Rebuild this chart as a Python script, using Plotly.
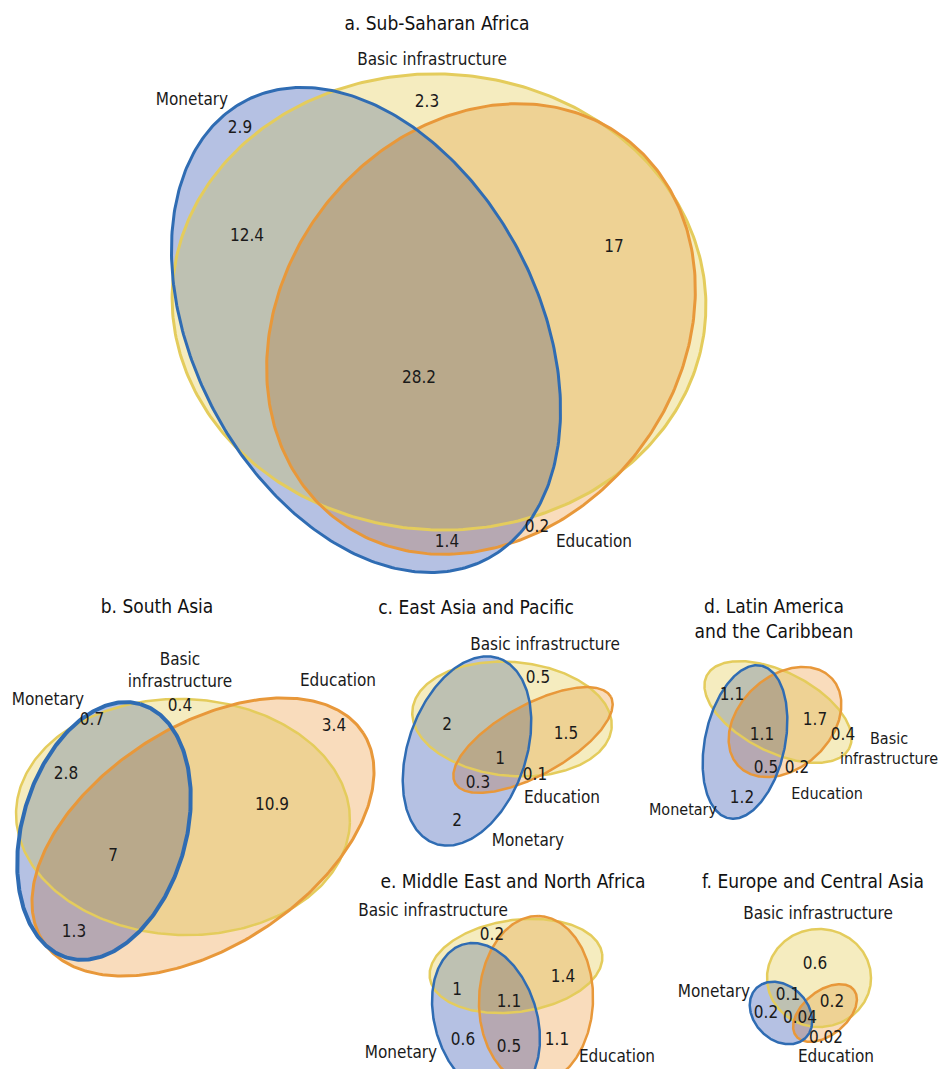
import numpy as np
import plotly.graph_objects as go

W, H = 950, 1069
PAD = 8  # page body margin; plot is shifted so data coords = page pixels
FONT = "Liberation Sans Narrow, DejaVu Sans Condensed, Roboto Condensed, Roboto, sans-serif"

set_names = ["Monetary", "Basic infrastructure", "Education"]
titles = ["a. Sub-Saharan Africa", "b. South Asia", "c. East Asia and Pacific",
          "d. Latin America<br>and the Caribbean", "e. Middle East and North Africa",
          "f. Europe and Central Asia"]

# region order: M only, B only, E only, M&B, B&E, M&E, M&B&E
ssa_vals = [2.9, 2.3, 0.2, 12.4, 17, 1.4, 28.2]
sar_vals = [0.7, 0.4, 3.4, 2.8, 10.9, 1.3, 7]
eap_vals = [2, 0.5, 0.1, 2, 1.5, 0.3, 1]
lac_vals = [1.2, 0.4, 0.2, 1.1, 1.7, 0.5, 1.1]
mna_vals = [0.6, 0.2, 1.1, 1, 1.4, 0.5, 1.1]
eca_vals = [0.2, 0.6, 0.02, 0.1, 0.2, None, 0.04]

# layout: ellipse (cx, cy, a, b, tilt deg) for Monetary, Basic infra, Education
panels = [
    dict(vals=ssa_vals, title=(437, 25),
         geo=[(366, 330, 259, 172, -62), (439, 302, 267, 228, -3), (481, 329, 239, 199, 53)],
         pos=[(240, 129), (427, 103), (537, 528), (247, 237), (614, 248), (447, 543), (419, 379)],
         names=[(192, 101), (432, 61), (594, 543)], lw=[3, 3, 3], br=False, ns=17),
    dict(vals=sar_vals, title=(157, 608),
         geo=[(104, 831, 132, 82, 74), (183, 817, 167, 118, -2), (203, 837, 191, 110, 33)],
         pos=[(92, 721), (180, 707), (334, 727), (66, 775), (272, 806), (74, 933), (113, 857)],
         names=[(48, 701), (180, 672), (338, 682)], lw=[4, 2.5, 3], br=True, ns=17),
    dict(vals=eap_vals, title=(476, 609),
         geo=[(467, 751, 98, 59, 71), (512, 719, 100, 57, -5), (533, 740, 89, 35, 29)],
         pos=[(457, 822), (538, 679), (535, 776), (447, 726), (566, 735), (478, 784), (500, 760)],
         names=[(528, 842), (545, 646), (562, 799)], lw=[2.5, 2.5, 2.5], br=False, ns=17),
    dict(vals=lac_vals, title=(774, 621),
         geo=[(745, 742, 78, 40, 78), (778, 712, 80, 40, -27), (785, 722, 64, 46, 43)],
         pos=[(742, 799), (843, 736), (797, 769), (732, 696), (815, 721), (766, 769), (762, 736)],
         names=[(683, 811), (889, 750), (827, 795)], lw=[2.5, 2.5, 2.5], br=True, ns=16),
    dict(vals=mna_vals, title=(513, 883),
         geo=[(486, 1020, 79, 51, -73), (516, 966, 87, 46, 8), (536, 1000, 84, 57, 88)],
         pos=[(463, 1041), (492, 936), (557, 1041), (457, 991), (563, 978), (509, 1048), (509, 1003)],
         names=[(401, 1054), (433, 912), (617, 1058)], lw=[2.5, 2.5, 2.5], br=False, ns=17),
    dict(vals=eca_vals, title=(813, 883),
         geo=[(781, 1013, 35, 27, -45), (819, 978, 52, 49, 0), (825, 1013, 37, 22, 39)],
         pos=[(766, 1014), (815, 965), (826, 1039), (788, 996), (832, 1003), (0, 0), (800, 1019)],
         names=[(714, 993), (818, 915), (836, 1058)], lw=[2.5, 2.5, 2.5], br=False, ns=17),
]

line_colors = ["#2f6cb3", "#e4cc5c", "#e8983a"]
# code = M + 2*B + 4*E
region_colors = ["#b5c1e3", "#f5ecbf", "#bec1b2", "#f9dcbc", "#b6a8b2", "#eed294", "#b9a98b"]


def inside(X, Y, e):
    cx, cy, a, b, t = e
    t = np.radians(t)
    dx, dy = X - cx, cy - Y
    u = dx * np.cos(t) + dy * np.sin(t)
    v = -dx * np.sin(t) + dy * np.cos(t)
    return (u / a) ** 2 + (v / b) ** 2 <= 1


def outline(e, n=360):
    cx, cy, a, b, t = e
    t = np.radians(t)
    s = np.linspace(0, 2 * np.pi, n)
    u, v = a * np.cos(s), b * np.sin(s)
    return cx + u * np.cos(t) - v * np.sin(t), cy - (u * np.sin(t) + v * np.cos(t))


cscale = []
for k, c in enumerate(region_colors):
    cscale += [[k / 7, c], [(k + 1) / 7, c]]

fig = go.Figure()

for p in panels:
    r = max(max(e[2], e[3]) for e in p["geo"]) + 4
    x0 = int(max(0, min(e[0] for e in p["geo"]) - r))
    x1 = int(min(W, max(e[0] for e in p["geo"]) + r))
    y0 = int(max(0, min(e[1] for e in p["geo"]) - r))
    y1 = int(min(H, max(e[1] for e in p["geo"]) + r))
    xs = np.arange(x0, x1) + 0.5
    ys = np.arange(y0, y1) + 0.5
    X, Y = np.meshgrid(xs, ys)
    code = np.zeros(X.shape)
    for i, e in enumerate(p["geo"]):
        code += inside(X, Y, e) * (2 ** i)
    z = np.where(code > 0, code, np.nan).astype(np.float32)
    fig.add_trace(go.Heatmap(x=xs, y=ys, z=z, colorscale=cscale, zmin=0.5, zmax=7.5,
                             showscale=False, hoverinfo="skip"))

for p in panels:
    for i in [1, 2, 0]:
        ex, ey = outline(p["geo"][i])
        fig.add_trace(go.Scatter(x=ex, y=ey, mode="lines", hoverinfo="skip",
                                 line=dict(color=line_colors[i], width=p["lw"][i])))

for p, title in zip(panels, titles):
    keep = [k for k, v in enumerate(p["vals"]) if v is not None]
    fig.add_trace(go.Scatter(
        x=[p["pos"][k][0] for k in keep], y=[p["pos"][k][1] for k in keep],
        text=[f"{p['vals'][k]:g}" for k in keep], mode="text", cliponaxis=False,
        textfont=dict(family=FONT, size=17, color="#1a1a1a"), hoverinfo="skip"))
    names = [n.replace("Basic ", "Basic<br>") if p["br"] else n for n in set_names]
    fig.add_trace(go.Scatter(
        x=[q[0] for q in p["names"]], y=[q[1] for q in p["names"]], text=names,
        mode="text", cliponaxis=False, hoverinfo="skip",
        textfont=dict(family=FONT, size=p["ns"], color="#1a1a1a")))
    fig.add_trace(go.Scatter(
        x=[p["title"][0]], y=[p["title"][1]], text=[title], mode="text", cliponaxis=False,
        hoverinfo="skip", textfont=dict(family=FONT, size=19, color="#111111")))

fig.update_layout(
    width=W - PAD, height=H - PAD, margin=dict(l=0, r=0, t=0, b=0),
    showlegend=False, plot_bgcolor="white", paper_bgcolor="white",
    xaxis=dict(range=[PAD, W], visible=False, fixedrange=True),
    yaxis=dict(range=[H, PAD], visible=False, fixedrange=True),
)

fig.write_html("out.html")
